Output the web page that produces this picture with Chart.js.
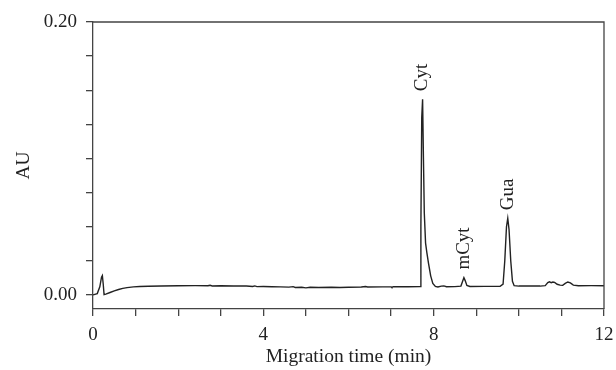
<!DOCTYPE html>
<html>
<head>
<meta charset="utf-8">
<title>Electropherogram</title>
<script src="https://cdn.jsdelivr.net/npm/chart.js"></script>
<style>
  body { margin: 0; background: #fff; }
</style>
</head>
<body>
<canvas id="myChart" width="616" height="370"></canvas>
<script>
// migration time (min) and absorbance (AU)
var times = [
  0.00, 0.10, 0.16, 0.20, 0.22, 0.24, 0.26, 0.30, 0.40, 0.50, 0.60, 0.70, 0.80, 0.95,
  1.10, 1.30, 1.60, 2.00, 2.40, 2.70, 2.75, 2.80, 3.00, 3.30, 3.60, 3.75, 3.80, 3.85,
  4.00, 4.20, 4.40, 4.60, 4.70, 4.75, 4.90, 5.00, 5.10, 5.30, 5.60, 5.80, 6.00, 6.30,
  6.40, 6.45, 6.80, 7.00, 7.02, 7.05, 7.40, 7.68, 7.70, 7.72, 7.74, 7.76, 7.78, 7.81,
  7.84, 7.88, 7.93, 7.98, 8.04, 8.10, 8.18, 8.24, 8.30, 8.50, 8.64, 8.68, 8.71, 8.74,
  8.78, 8.85, 9.20, 9.56, 9.63, 9.67, 9.71, 9.74, 9.77, 9.81, 9.85, 9.89, 10.00, 10.50,
  10.62, 10.68, 10.72, 10.76, 10.80, 10.84, 10.90, 10.97, 11.03, 11.09, 11.15, 11.21,
  11.28, 11.40, 11.70, 12.00
];
var absorbance = [
  0.0000, 0.0010, 0.0060, 0.0130, 0.0142, 0.0080, 0.0002, 0.0006, 0.0018, 0.0030, 0.0040, 0.0048, 0.0054, 0.0059,
  0.0062, 0.0064, 0.0066, 0.0067, 0.0068, 0.0067, 0.0071, 0.0066, 0.0067, 0.0066, 0.0065, 0.0062, 0.0066, 0.0061,
  0.0062, 0.0060, 0.0059, 0.0057, 0.0061, 0.0055, 0.0056, 0.0052, 0.0056, 0.0055, 0.0056, 0.0054, 0.0056, 0.0058,
  0.0062, 0.0058, 0.0059, 0.0059, 0.0055, 0.0060, 0.0060, 0.0061, 0.0500, 0.1300, 0.1434, 0.1000, 0.0600, 0.0380,
  0.0310, 0.0230, 0.0140, 0.0085, 0.0062, 0.0058, 0.0065, 0.0066, 0.0060, 0.0061, 0.0065, 0.0100, 0.0127, 0.0105,
  0.0070, 0.0062, 0.0063, 0.0064, 0.0080, 0.0250, 0.0500, 0.0562, 0.0480, 0.0250, 0.0100, 0.0068, 0.0065, 0.0065,
  0.0068, 0.0090, 0.0096, 0.0090, 0.0095, 0.0092, 0.0078, 0.0072, 0.0070, 0.0085, 0.0095, 0.0088,
  0.0072, 0.0067, 0.0068, 0.0067
];

// peak annotations
var peakNames = ['Cyt', 'mCyt', 'Gua'];
var peakTimes = [7.73, 8.71, 9.74];
var peakHeights = [0.1434, 0.0127, 0.0562];

// axis ticks
var xTickValues = [0, 1, 2, 3, 4, 5, 6, 7, 8, 9, 10, 11, 12];
var xTickLabels = [0, 4, 8, 12];
var yTickValues = [0, 0.025, 0.05, 0.075, 0.1, 0.125, 0.15, 0.175, 0.2];
var yTickLabels = [0, 0.2];

var serif = 'Liberation Serif';
var ink = '#222';
var axisColor = '#444';

var points = [];
for (var i = 0; i < times.length; i++) {
  points.push({ x: times[i], y: absorbance[i] });
}

// frame round the plot + rotated peak names
var framePlugin = {
  id: 'frame',
  afterDatasetsDraw: function (chart) {
    var ctx = chart.ctx;
    var a = chart.chartArea;
    ctx.save();
    ctx.strokeStyle = axisColor;
    ctx.lineWidth = 1.3;
    ctx.beginPath();
    ctx.moveTo(a.left, a.top);
    ctx.lineTo(a.right, a.top);
    ctx.lineTo(a.right, a.bottom);
    ctx.stroke();

    var xs = chart.scales.x, ys = chart.scales.y;
    ctx.fillStyle = ink;
    ctx.font = '19px "' + serif + '"';
    ctx.textAlign = 'left';
    ctx.textBaseline = 'middle';
    for (var k = 0; k < peakNames.length; k++) {
      var px = xs.getPixelForValue(peakTimes[k]);
      var py = ys.getPixelForValue(peakHeights[k]) - 8;
      ctx.save();
      ctx.translate(px, py);
      ctx.rotate(-Math.PI / 2);
      ctx.fillText(peakNames[k], 0, 0);
      ctx.restore();
    }
    ctx.restore();
  }
};

const config = {
  type: 'line',
  data: {
    datasets: [{
      data: points,
      borderColor: ink,
      borderWidth: 1.4,
      pointRadius: 0,
      tension: 0,
      fill: false
    }]
  },
  options: {
    responsive: false,
    animation: false,
    layout: { padding: { top: 22, right: 12, left: 0, bottom: 0 } },
    plugins: {
      legend: { display: false },
      tooltip: { enabled: false }
    },
    scales: {
      x: {
        type: 'linear',
        min: 0,
        max: 12,
        afterBuildTicks: function (scale) {
          scale.ticks = xTickValues.map(function (v) { return { value: v }; });
        },
        afterFit: function (scale) {
          scale.height = 61;
          scale.paddingLeft = 0;
          scale.paddingRight = 0;
        },
        grid: { drawOnChartArea: false, drawTicks: true, tickLength: 7, color: axisColor, lineWidth: 1.3 },
        border: { display: true, color: axisColor, width: 1.3 },
        ticks: {
          autoSkip: false,
          maxRotation: 0,
          padding: 8,
          color: ink,
          font: { family: serif, size: 19 },
          callback: function (v) { return xTickLabels.indexOf(v) >= 0 ? String(v) : ''; }
        },
        title: {
          display: true,
          text: 'Migration time (min)',
          color: ink,
          font: { family: serif, size: 19.5 },
          padding: { top: 0, bottom: 1 }
        }
      },
      y: {
        min: -0.0103,
        max: 0.2,
        afterBuildTicks: function (scale) {
          scale.ticks = yTickValues.map(function (v) { return { value: v }; });
        },
        afterFit: function (scale) {
          scale.width = 93;
          scale.paddingTop = 0;
          scale.paddingBottom = 0;
        },
        grid: { drawOnChartArea: false, drawTicks: true, tickLength: 7, color: axisColor, lineWidth: 1.3 },
        border: { display: true, color: axisColor, width: 1.3 },
        ticks: {
          autoSkip: false,
          padding: 9,
          color: ink,
          font: { family: serif, size: 19 },
          callback: function (v) { return yTickLabels.indexOf(v) >= 0 ? v.toFixed(2) : ''; }
        },
        title: {
          display: true,
          text: 'AU',
          color: ink,
          font: { family: serif, size: 19.5 },
          padding: { top: 12, bottom: 0 }
        }
      }
    }
  },
  plugins: [framePlugin]
};

const myChart = new Chart(document.getElementById('myChart'), config);
</script>
</body>
</html>
